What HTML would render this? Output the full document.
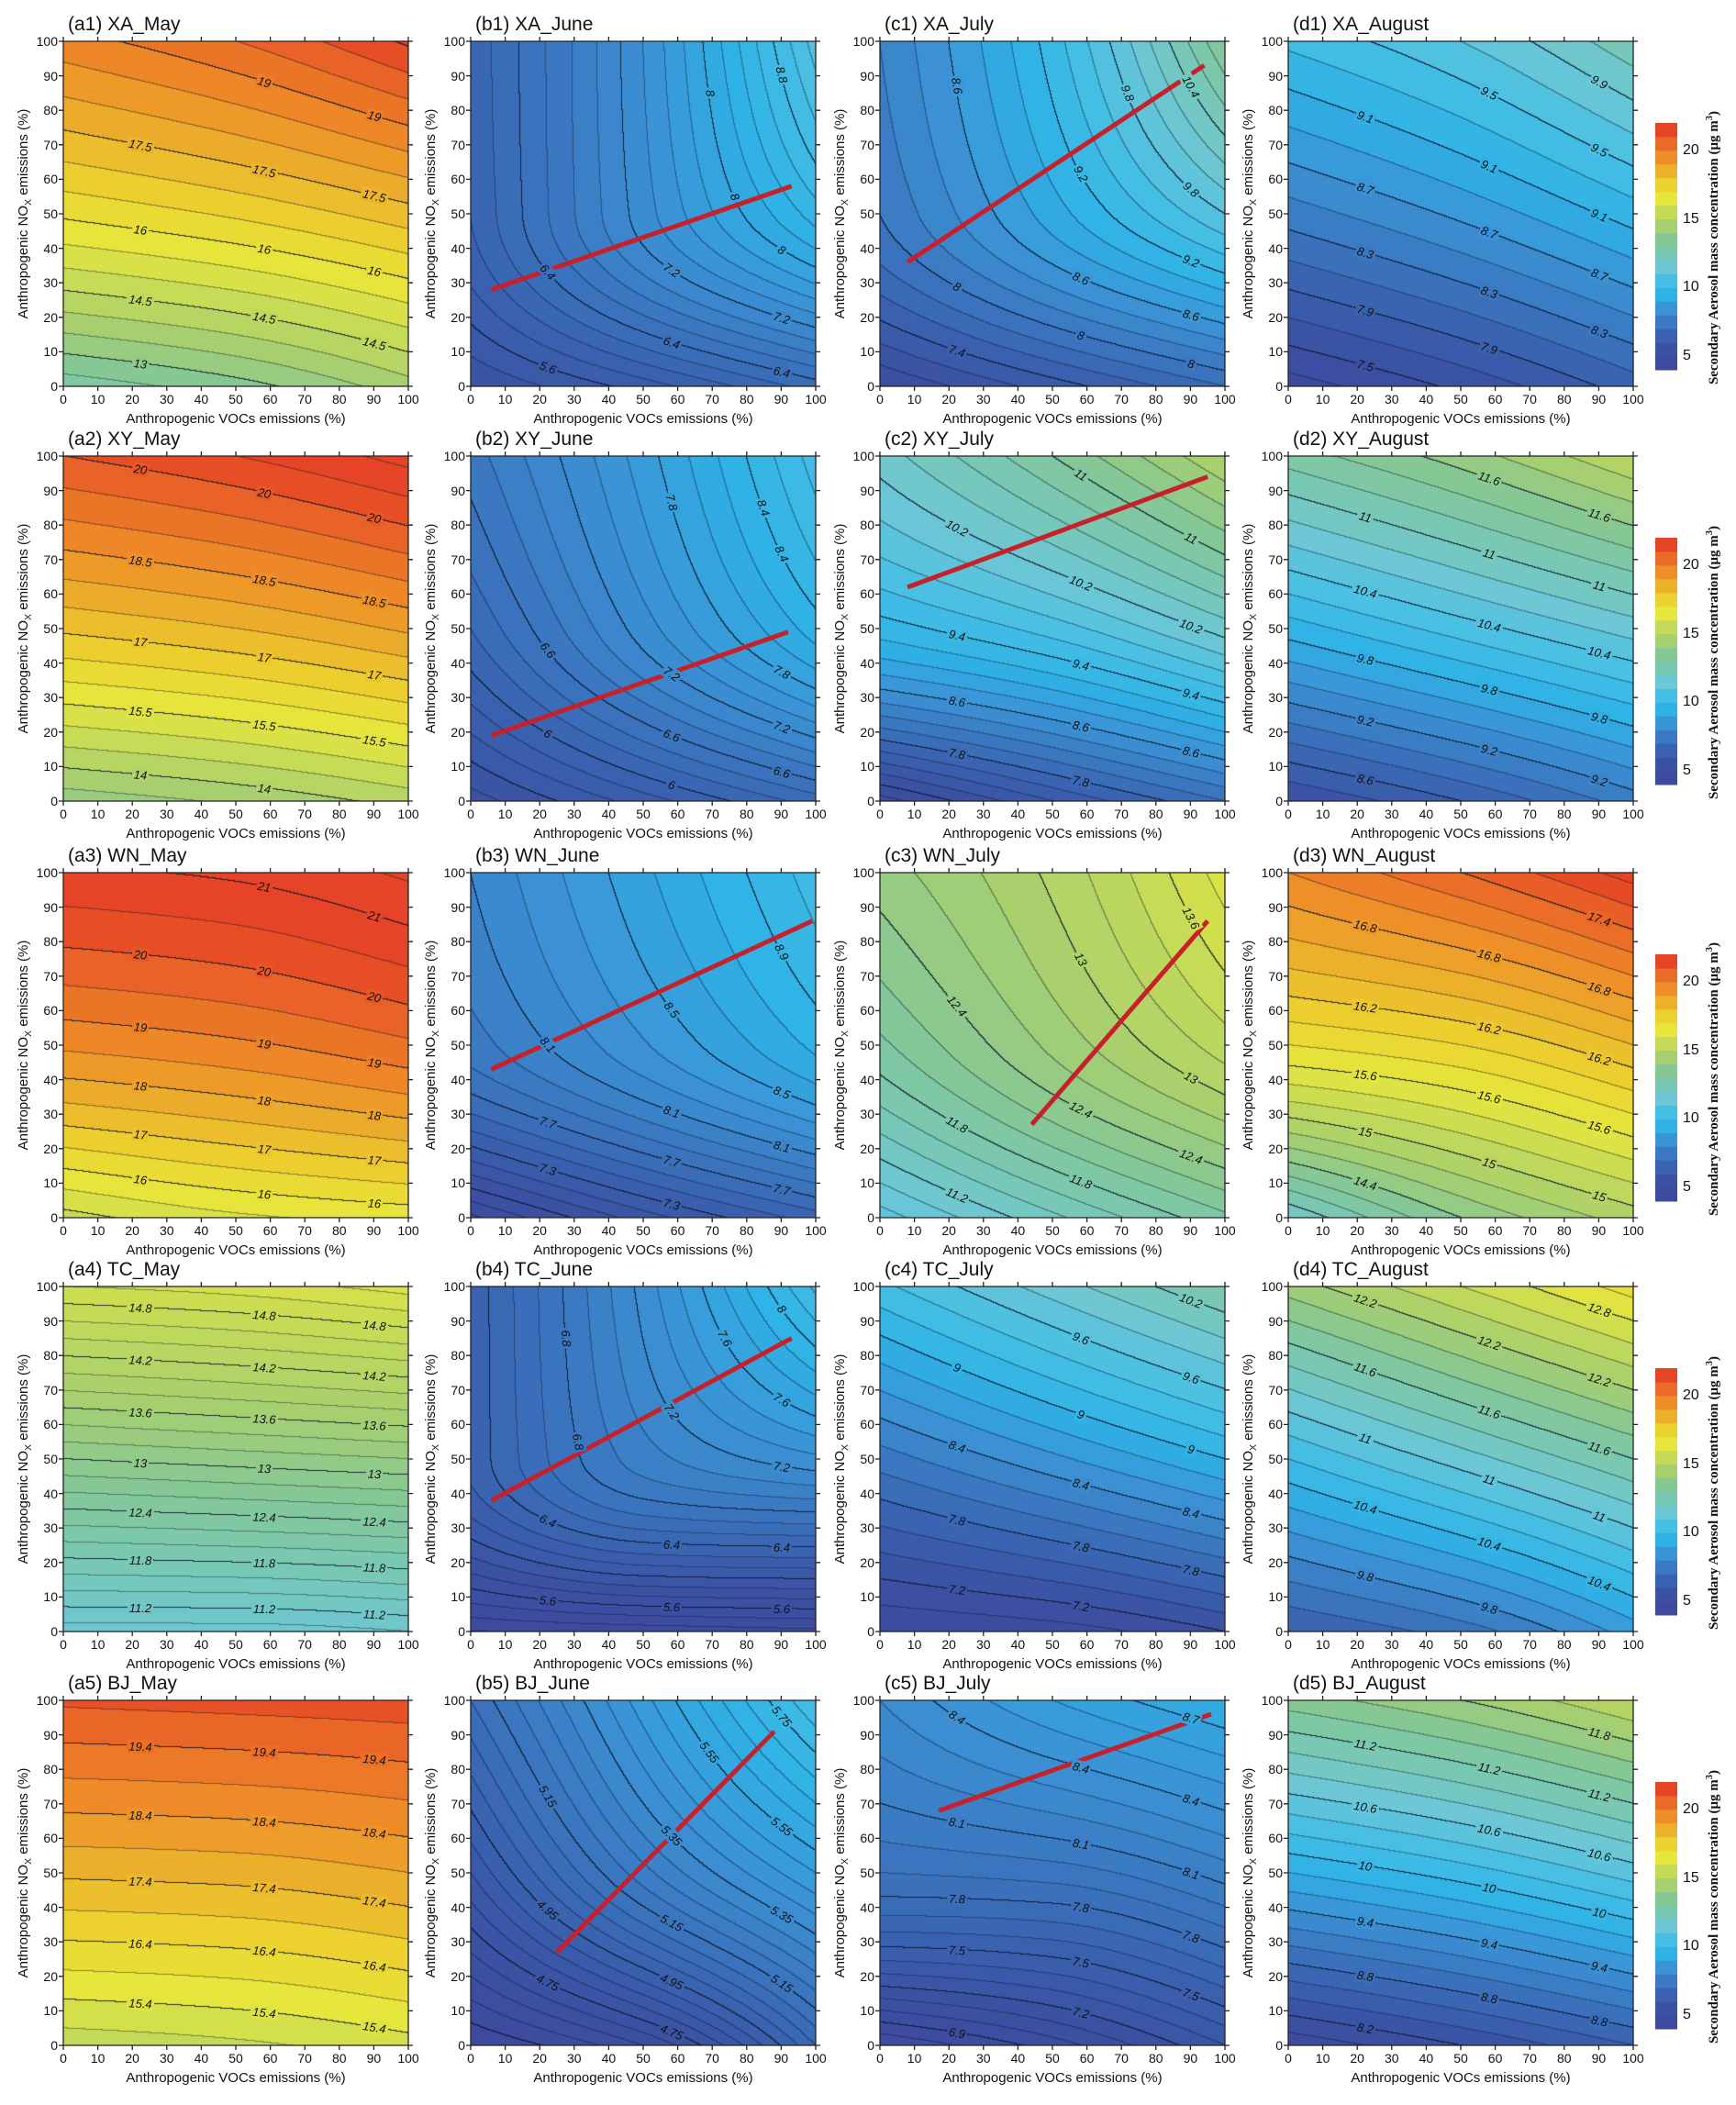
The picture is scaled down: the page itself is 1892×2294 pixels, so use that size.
<!DOCTYPE html>
<html><head><meta charset="utf-8">
<style>
html,body{margin:0;padding:0;background:#fff;}
body{width:1892px;height:2294px;position:relative;overflow:hidden;font-family:"Liberation Sans",sans-serif;color:#111;}
.abs{position:absolute;}
.title{font-size:21px;white-space:nowrap;}
.tk{font-size:14px;white-space:nowrap;}
.ax{font-size:15px;white-space:nowrap;text-align:center;}
.rot{transform:rotate(-90deg);transform-origin:50% 50%;}
.cl{font-size:13px;font-style:italic;white-space:nowrap;line-height:13px;padding:0 1px;}
.cbt{font-family:"Liberation Serif",serif;font-weight:bold;font-size:15px;white-space:nowrap;text-align:center;}
sub,sup{font-size:70%;}
</style></head>
<body>
<script>
// ---- data ----
const panelTitles = ["(a1) XA_May","(b1) XA_June","(c1) XA_July","(d1) XA_August",
"(a2) XY_May","(b2) XY_June","(c2) XY_July","(d2) XY_August",
"(a3) WN_May","(b3) WN_June","(c3) WN_July","(d3) WN_August",
"(a4) TC_May","(b4) TC_June","(c4) TC_July","(d4) TC_August",
"(a5) BJ_May","(b5) BJ_June","(c5) BJ_July","(d5) BJ_August"];
// field values at VOC = 0,50,100 for NOx = 0, 50, 100
const gridValues = [
[12.2,12.8,13.8, 16.1,16.6,17.3, 18.8,19.5,20.6],
[5.2,5.7,6.3, 6.0,7.3,8.5, 6.05,7.4,9.3],
[6.8,7.3,7.8, 8.0,8.9,9.8, 8.2,9.3,11.0],
[7.2,7.55,8.0, 8.4,8.75,9.2, 9.35,9.7,10.25],
[13.2,13.6,14.2, 17.1,17.5,18.1, 20.0,20.5,21.2],
[5.1,5.7,6.3, 6.2,7.3,8.3, 6.7,7.7,8.9],
[6.7,7.4,8.0, 9.3,9.7,10.3, 10.3,11.0,11.8],
[8.2,8.6,9.1, 9.9,10.3,10.7, 11.3,11.7,12.2],
[14.8,15.4,15.7, 18.6,18.9,19.4, 20.9,21.1,21.6],
[6.6,7.1,7.5, 7.9,8.35,8.8, 8.1,8.6,9.1],
[10.7,11.35,11.95, 11.95,12.65,13.3, 12.5,13.05,13.9],
[13.6,14.4,14.9, 15.8,16.0,16.4, 17.0,17.4,17.9],
[10.9,10.9,11.0, 13.0,13.1,13.2, 15.0,15.1,15.3],
[5.2,5.25,5.3, 6.3,7.0,7.3, 6.3,7.25,8.3],
[6.8,6.9,7.2, 8.1,8.55,9.0, 9.35,9.9,10.4],
[9.2,9.5,10.1, 10.6,11.1,11.6, 12.1,12.6,13.1],
[14.6,14.8,15.2, 17.5,17.6,17.9, 20.0,20.1,20.2],
[4.5,4.65,5.05, 4.85,5.23,5.5, 5.1,5.48,5.85],
[6.7,6.95,7.3, 7.9,7.95,8.15, 8.3,8.6,8.8],
[7.85,8.2,8.6, 9.8,10.1,10.5, 11.5,11.8,12.2]];
const contourStep = [0.5,0.2,0.2,0.2, 0.5,0.2,0.2,0.2, 0.5,0.4/3,0.2,0.2, 0.2,0.4/3,0.2,0.2, 0.5,0.05,0.1,0.2];
const labelBase = [13,5.6,7.4,7.5, 14,5.4,7,8.6, 16,6.9,11.2,14.4, 11.2,5.6,7.2,9.8, 15.4,4.55,6.9,8.2];
const labelStep = [1.5,0.8,0.6,0.4, 1.5,0.6,0.8,0.6, 1,0.4,0.6,0.6, 0.6,0.4,0.6,0.6, 1,0.2,0.3,0.6];
const colorLo = [3.5,4,6.3,7.0, 3.5,4,6.4,7.6, 3.5,6.3,6.3,10.2, 3.5,5.0,6.6,8.3, 3.5,4.4,6.5,7.6];
const colorHi = [21,18,15.3,13.9, 21,18,15.4,15, 21,14.5,17.5,18.0, 21,14.5,14.4,15, 21,8.5,14.3,15];
// red lines [x1,y1,x2,y2] in % (null = none)
const redLines = [null,[6,28,93,58],[8,36,94,93],null,
null,[6,19,92,49],[8,62,95,94],null,
null,[6,43,99,86],[44,27,95,86],null,
null,[6,38,93,85],null,null,
null,[25,27,88,91],[17,68,96,96],null];
const axisTicks = [0,10,20,30,40,50,60,70,80,90,100];
const cbarTicks = [5,10,15,20];
const cbarMin = 4, cbarMax = 22;
const cmap = ["#3e4a9e","#3b52a3","#3a62b0","#3b79c2","#3b94d6","#2fb2e6","#47bfe4","#6cc7d6","#79c8b4","#86c894","#a6cf70","#c4da58","#e6e63c","#ecd22f","#ecb12b","#ee8e28","#ea6a27","#e64426"];

// ---- layout ----
const colX = [69,513,959,1404];
const rowY = [45,497,951,1402,1853];
const PW = 376, PH = 376;

function hex(h){return [parseInt(h.substr(1,2),16),parseInt(h.substr(3,2),16),parseInt(h.substr(5,2),16)];}
const cmapRGB = cmap.map(hex);
function colorAt(p,v){
  let t=(v-colorLo[p])/(colorHi[p]-colorLo[p])*18-0.5;
  if(t<=0) return cmapRGB[0];
  if(t>=17) return cmapRGB[17];
  const i=Math.floor(t), f=t-i, a=cmapRGB[i], b=cmapRGB[i+1];
  return [a[0]+(b[0]-a[0])*f,a[1]+(b[1]-a[1])*f,a[2]+(b[2]-a[2])*f];
}
function pchip(a,b,c,x){
  const h=50, d1=(b-a)/h, d2=(c-b)/h;
  let m1 = (d1*d2<=0)?0:2*d1*d2/(d1+d2);
  let m0=(3*d1-m1)/2; if(m0*d1<=0) m0=0; else if(Math.abs(m0)>3*Math.abs(d1)) m0=3*d1;
  let m2=(3*d2-m1)/2; if(m2*d2<=0) m2=0; else if(Math.abs(m2)>3*Math.abs(d2)) m2=3*d2;
  let y0,y1,s0,s1,t;
  if(x<=50){y0=a;y1=b;s0=m0;s1=m1;t=x/h;} else {y0=b;y1=c;s0=m1;s1=m2;t=(x-50)/h;}
  const t2=t*t,t3=t2*t;
  return (2*t3-3*t2+1)*y0+(t3-2*t2+t)*h*s0+(-2*t3+3*t2)*y1+(t3-t2)*h*s1;
}
function fval(p,x,y){
  const g=gridValues[p];
  const r0=pchip(g[0],g[1],g[2],x), r1=pchip(g[3],g[4],g[5],x), r2=pchip(g[6],g[7],g[8],x);
  const c0=pchip(g[0],g[3],g[6],y), c1=pchip(g[1],g[4],g[7],y), c2=pchip(g[2],g[5],g[8],y);
  return 0.5*(pchip(r0,r1,r2,y)+pchip(c0,c1,c2,x));
}
function add(tag,cls,parent){const e=document.createElement(tag); if(cls)e.className=cls; (parent||document.body).appendChild(e); return e;}
const SVGNS="http://www.w3.org/2000/svg";

for(let p=0;p<20;p++){
  const r=Math.floor(p/4), c=p%4;
  const X=colX[c], Y=rowY[r];
  const iv=contourStep[p], lb=labelBase[p], ls=labelStep[p];
  const cv=add('canvas','abs');
  
  
  cv.width=PW; cv.height=PH; cv.style.left=X+'px'; cv.style.top=Y+'px';
  const ctx=cv.getContext('2d');
  const img=ctx.createImageData(PW,PH);
  const K=new Float64Array((PW+1)*(PH+1));
  for(let j=0;j<=PH;j++)for(let i=0;i<=PW;i++){
    const x=(i+0.5)/PW*100, y=100-(j+0.5)/PH*100;
    K[j*(PW+1)+i]=Math.floor((fval(p,x,y)-lb)/iv+1e-9);
  }
  for(let j=0;j<PH;j++)for(let i=0;i<PW;i++){
    const k=K[j*(PW+1)+i], kr=K[j*(PW+1)+i+1], kd=K[(j+1)*(PW+1)+i];
    let col=colorAt(p, lb+(k+0.5)*iv);
    const o=(j*PW+i)*4;
    if(k!==kr||k!==kd){
      const kk=Math.max(k,(k!==kr?kr:kd));
      const q=kk*iv/ls;
      const labeled=Math.abs(q-Math.round(q))<1e-6;
      const a=labeled?0.85:0.42;
      col=[col[0]*(1-a)+10*a,col[1]*(1-a)+20*a,col[2]*(1-a)+40*a];
    }
    img.data[o]=col[0];img.data[o+1]=col[1];img.data[o+2]=col[2];img.data[o+3]=255;
  }
  ctx.putImageData(img,0,0);

  const svg=document.createElementNS(SVGNS,'svg');
  
  
  svg.setAttribute('width',PW+20); svg.setAttribute('height',PH+20);
  svg.style.position='absolute'; svg.style.left=(X-10)+'px'; svg.style.top=(Y-10)+'px'; svg.style.overflow='visible';
  document.body.appendChild(svg);
  const sx=v=>10+v/100*PW, sy=v=>10+PH-v/100*PH;
  let d='M10 10H'+(10+PW)+'V'+(10+PH)+'H10Z';
  axisTicks.forEach(t=>{
    d+='M'+sx(t)+' '+(10+PH)+'v5M'+sx(t)+' 10v-5M10 '+sy(t)+'h-5M'+(10+PW)+' '+sy(t)+'h5';
  });
  const fr=document.createElementNS(SVGNS,'path');
  fr.setAttribute('d',d); fr.setAttribute('fill','none'); fr.setAttribute('stroke','#222'); fr.setAttribute('stroke-width','1.3');
  
  
  svg.appendChild(fr);
  if(redLines[p]){
    const rl=redLines[p], ln=document.createElementNS(SVGNS,'line');
    ln.setAttribute('x1',sx(rl[0]));ln.setAttribute('y1',sy(rl[1]));ln.setAttribute('x2',sx(rl[2]));ln.setAttribute('y2',sy(rl[3]));
    ln.setAttribute('stroke','#c8202a');ln.setAttribute('stroke-width','5');
    
    
    svg.appendChild(ln);
  }
  const ti=add('div','abs title'); ti.textContent=panelTitles[p];
  
  
  ti.style.left=(X+5)+'px'; ti.style.top=(Y-30)+'px';
  axisTicks.forEach(t=>{
    const a=add('div','abs tk'); a.textContent=t;
    
    
    a.style.left=(X+t/100*PW-20)+'px'; a.style.width='40px'; a.style.textAlign='center'; a.style.top=(Y+PH+6)+'px';
    const b=add('div','abs tk'); b.textContent=t;
    
    
    b.style.left=(X-48)+'px'; b.style.width='42px'; b.style.textAlign='right'; b.style.top=(Y+PH-t/100*PH-8)+'px';
  });
  const xt=add('div','abs ax'); xt.innerHTML='Anthropogenic VOCs emissions (%)';
  
  
  xt.style.left=(X)+'px'; xt.style.width=PW+'px'; xt.style.top=(Y+PH+27)+'px';
  const yt=add('div','abs ax rot'); yt.innerHTML='Anthropogenic NO<sub>X</sub> emissions (%)';
  
  
  yt.style.width='340px'; yt.style.height='20px';
  yt.style.left=(X-42-170)+'px'; yt.style.top=(Y+PH/2-10)+'px';
  const placed=[];
  const fmin=Math.min(...gridValues[p])-1, fmax=Math.max(...gridValues[p])+1;
  function tryPlace(lev,x,y){
    const px=X+x/100*PW, py=Y+PH-y/100*PH;
    for(const q of placed){ if(Math.hypot(q[0]-px,q[1]-py)<45) return false; }
    if(x<4||x>96||y<3||y>97) return false;
    placed.push([px,py]);
    const e=0.5, fx=(fval(p,x+e,y)-fval(p,x-e,y)), fy=(fval(p,x,y+e)-fval(p,x,y-e));
    let tx=fy, ty=-fx; if(tx<0){tx=-tx;ty=-ty;}
    let ang=Math.atan2(-ty,tx)*180/Math.PI;
    const lbl=add('div','abs cl');
    
    
    lbl.style.left=(px-30)+'px'; lbl.style.width='60px'; lbl.style.textAlign='center';
    lbl.style.top=(py-6)+'px';
    lbl.style.transform='rotate('+ang+'deg)';
    const inner=document.createElement('span');
    inner.textContent=(+lev.toFixed(2)).toString();
    const col=colorAt(p,fval(p,x,y));
    inner.style.background='rgb('+col.map(Math.round).join(',')+')';
    inner.style.padding='0 2px';
    lbl.appendChild(inner);
    return true;
  }
  for(let n=-5;n<60;n++){
    const lev=lb+n*ls; if(lev<fmin||lev>fmax) continue;
    let hits=0;
    [22,58,90].forEach(x=>{
      for(let y=3;y<97;y+=0.5){
        const a=fval(p,x,y)-lev, b=fval(p,x,y+0.5)-lev;
        if(a*b<=0&&a!==b){ if(tryPlace(lev,x,y+0.5*a/(a-b))) hits++; break; }
      }
    });
    if(hits<2){
      [85,55].forEach(y=>{
        for(let x=3;x<97;x+=0.5){
          const a=fval(p,x,y)-lev, b=fval(p,x+0.5,y)-lev;
          if(a*b<=0&&a!==b){ tryPlace(lev,x+0.5*a/(a-b),y); break; }
        }
      });
    }
  }
}

for(let r=0;r<5;r++){
  const top=rowY[r]+89, h=269, left=1804, w=24;
  const svg=document.createElementNS(SVGNS,'svg');
  
  
  svg.setAttribute('width',w+2); svg.setAttribute('height',h+2);
  svg.style.position='absolute'; svg.style.left=(left-1)+'px'; svg.style.top=(top-1)+'px';
  document.body.appendChild(svg);
  const bh=h/cmap.length;
  cmap.forEach((cc,i)=>{
    const re=document.createElementNS(SVGNS,'rect');
    re.setAttribute('x',1); re.setAttribute('y',1+h-(i+1)*bh); re.setAttribute('width',w); re.setAttribute('height',bh+0.5);
    re.setAttribute('fill',cc);
    
    
    svg.appendChild(re);
  });
  cbarTicks.forEach(t=>{
    const e=add('div','abs tk'); e.textContent=t;
    
    
    e.style.fontSize='16px';
    e.style.left=(left+w+6)+'px'; e.style.top=(top+h-(t-cbarMin)/(cbarMax-cbarMin)*h-9)+'px';
  });
  const ct=add('div','abs cbt rot');
  
  
  ct.innerHTML='Secondary Aerosol mass concentration (μg m<sup>3</sup>)';
  ct.style.width='360px'; ct.style.height='20px';
  ct.style.left=(1868-180)+'px'; ct.style.top=(rowY[r]+225-10)+'px';
}
</script>
</body></html>
